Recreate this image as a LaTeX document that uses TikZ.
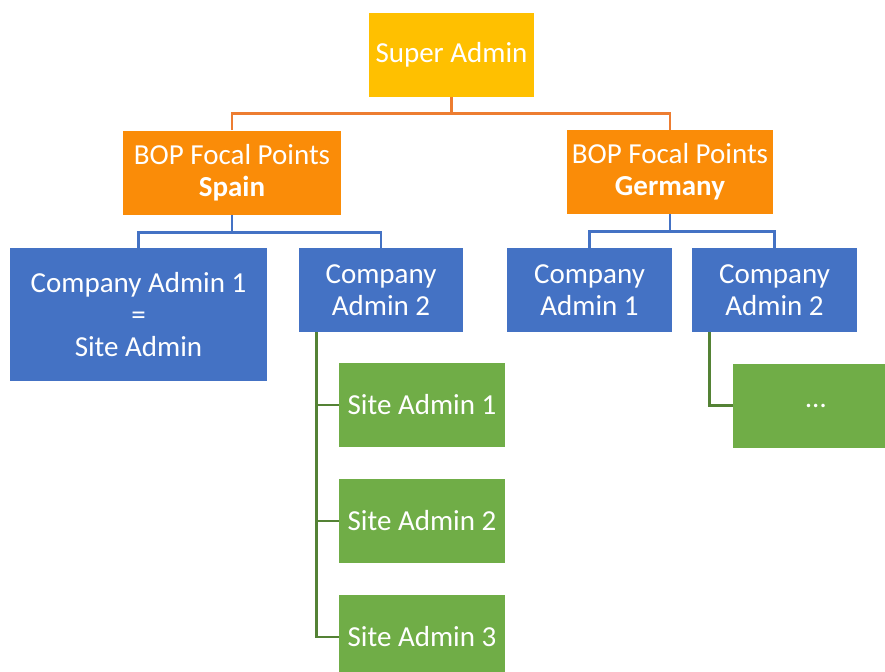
\documentclass[tikz,border=0pt]{standalone}
\usepackage{fontspec}
\setmainfont{Carlito}
\definecolor{gold}{RGB}{255,192,0}
\definecolor{orng}{RGB}{250,140,8}
\definecolor{oline}{RGB}{237,125,49}
\definecolor{blu}{RGB}{68,114,196}
\definecolor{grn}{RGB}{112,173,71}
\definecolor{gline}{RGB}{84,130,53}
\begin{document}
\begin{tikzpicture}[x=0.75pt,y=-0.75pt,
  box/.style={rectangle,inner sep=0pt,text=white,align=center,
    font=\fontsize{21.75}{24}\selectfont,minimum height=63pt},
  con/.style={line width=2.1pt}]
\useasboundingbox (0,0) rectangle (885,671);
\begin{scope}
\clip (0,0) rectangle (885,671);
\node[box,fill=gold,minimum width=123.75pt] (super) at (451.5,55) {Super Admin};
\node[box,fill=orng,minimum width=163.5pt] (spain) at (232,172.5) {BOP Focal Points\\\textbf{Spain}};
\node[box,fill=orng,minimum width=154.5pt] (germany) at (670,172) {BOP Focal Points\\\textbf{Germany}};
\node[box,fill=blu,minimum width=192.75pt,minimum height=99.75pt] (ca1s) at (138.5,314.5) {Company Admin 1\\=\\Site Admin};
\node[box,fill=blu,minimum width=123pt] (ca2s) at (381,290) {Company\\Admin 2};
\node[box,fill=blu,minimum width=123.75pt] (ca1g) at (589.5,290) {Company\\Admin 1};
\node[box,fill=blu,minimum width=123.75pt] (ca2g) at (774.5,290) {Company\\Admin 2};
\node[box,fill=grn,minimum width=124.5pt] (sa1) at (422,405) {Site Admin 1};
\node[box,fill=grn,minimum width=124.5pt] (sa2) at (422,521) {Site Admin 2};
\node[box,fill=grn,minimum width=124.5pt] (sa3) at (422,637) {Site Admin 3};
\node[box,fill=grn,minimum width=124.5pt] (dots) at (816,405.5) {…};
\end{scope}
% connectors
\draw[con,oline] (super.south) -- ++(0,18);
\draw[con,oline] (spain.north) -- ++(0,-17) -| (germany.north);
\draw[con,blu] (spain.south) -- ++(0,18);
\draw[con,blu] (ca1s.north) -- ++(0,-15.5) -| (ca2s.north);
\draw[con,blu] (germany.south) -- ++(0,18);
\draw[con,blu] (ca1g.north) -- ++(0,-16) -| (ca2g.north);
\draw[con,gline] (ca2s.south west) ++(18,0) coordinate (g1) |- (sa3.west);
\draw[con,gline] (g1 |- sa1.west) -- (sa1.west);
\draw[con,gline] (g1 |- sa2.west) -- (sa2.west);
\draw[con,gline] (ca2g.south west) ++(18,0) |- (dots.west);
\end{tikzpicture}
\end{document}
